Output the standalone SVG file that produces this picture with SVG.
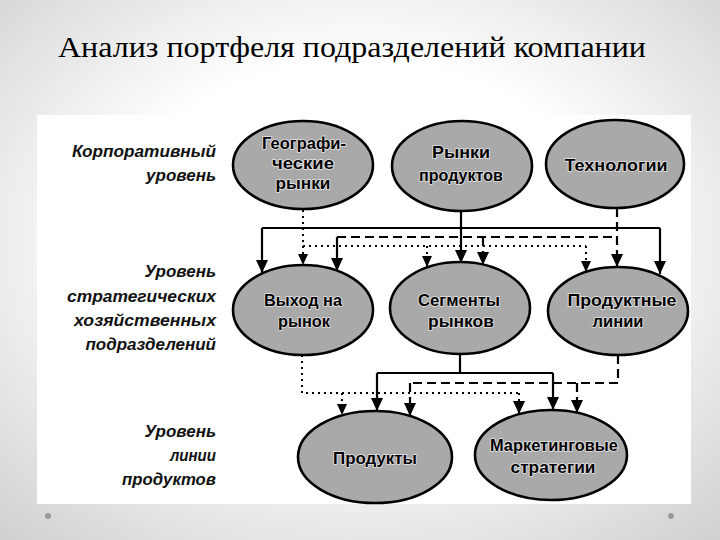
<svg xmlns="http://www.w3.org/2000/svg" width="720" height="540" viewBox="0 0 720 540">
<defs>
<radialGradient id="bg" cx="50%" cy="45%" r="75%">
<stop offset="0.45" stop-color="#ffffff"/>
<stop offset="1" stop-color="#cfcfcf"/>
</radialGradient>
<marker id="ah" markerUnits="userSpaceOnUse" markerWidth="14" markerHeight="12" refX="13" refY="6" orient="auto">
<path d="M0,0 L13,6 L0,12 z" fill="#000"/>
</marker>
<marker id="ahs" markerUnits="userSpaceOnUse" markerWidth="12" markerHeight="10" refX="11" refY="5" orient="auto">
<path d="M0,0 L11,5 L0,10 z" fill="#000"/>
</marker>
</defs>
<style>
.node ellipse{fill:#a9a9a9;stroke:#000;stroke-width:2.6}
.nt{font-family:"Liberation Sans",Arial,sans-serif;font-weight:bold;font-size:16.5px;fill:#000;text-anchor:middle;stroke:#e6e6e6;stroke-width:1.6;paint-order:stroke;stroke-linejoin:round}
.lbl{font-family:"Liberation Sans",Arial,sans-serif;font-weight:bold;font-style:italic;font-size:17px;fill:#111;text-anchor:end}
.solid{fill:none;stroke:#000;stroke-width:2.2}
.dash{fill:none;stroke:#000;stroke-width:2.2;stroke-dasharray:9 5}
.dot{fill:none;stroke:#000;stroke-width:2;stroke-dasharray:2 4}
</style>
<rect width="720" height="540" fill="url(#bg)"/>
<text x="58" y="57" font-family="'Liberation Serif','Times New Roman',serif" font-size="29" fill="#000" textLength="588" lengthAdjust="spacingAndGlyphs">Анализ портфеля подразделений компании</text>
<rect x="37" y="115" width="654" height="389" fill="#fff"/>
<circle cx="48" cy="516" r="3" fill="#9a9a9a"/>
<circle cx="671" cy="516" r="3" fill="#9a9a9a"/>

<g id="levels">
<text class="lbl" x="216" y="157" textLength="144" lengthAdjust="spacingAndGlyphs">Корпоративный</text>
<text class="lbl" x="216" y="181">уровень</text>
<text class="lbl" x="216" y="277">Уровень</text>
<text class="lbl" x="216" y="302" textLength="149" lengthAdjust="spacingAndGlyphs">стратегических</text>
<text class="lbl" x="216" y="326" textLength="142" lengthAdjust="spacingAndGlyphs">хозяйственных</text>
<text class="lbl" x="216" y="350">подразделений</text>
<text class="lbl" x="216" y="437">Уровень</text>
<text class="lbl" x="216" y="461" textLength="46" lengthAdjust="spacingAndGlyphs">линии</text>
<text class="lbl" x="216" y="485" textLength="94" lengthAdjust="spacingAndGlyphs">продуктов</text>
</g>

<g id="connectors">
<path class="solid" d="M461,211 V228 M262,228 H660"/>
<path class="solid" d="M262,228 V273" marker-end="url(#ah)"/>
<path class="solid" d="M461,228 V263" marker-end="url(#ah)"/>
<path class="solid" d="M660,228 V274" marker-end="url(#ah)"/>
<path class="dash" d="M617,208 V267" marker-end="url(#ah)"/>
<path class="dash" d="M337,237 H617"/>
<path class="solid" d="M337,237 V271" marker-end="url(#ah)"/>
<path class="dash" d="M483,237 V265" marker-end="url(#ah)"/>
<path class="dot" d="M303,210 V246 H586"/>
<path class="dot" d="M303,246 V265" marker-end="url(#ahs)"/>
<path class="dot" d="M427,246 V267" marker-end="url(#ahs)"/>
<path class="dot" d="M586,246 V272" marker-end="url(#ahs)"/>
<path class="solid" d="M460,354 V373 M377,373 H553"/>
<path class="solid" d="M377,373 V411" marker-end="url(#ah)"/>
<path class="solid" d="M553,373 V410" marker-end="url(#ah)"/>
<path class="dash" d="M618,355 V383 H410"/>
<path class="dash" d="M410,383 V416" marker-end="url(#ah)"/>
<path class="dash" d="M577,383 V413" marker-end="url(#ah)"/>
<path class="dot" d="M302,355 V393 H519"/>
<path class="dot" d="M342,393 V415" marker-end="url(#ahs)"/>
<path class="dot" d="M519,393 V414" marker-end="url(#ah)"/>
</g>

<g id="n-geo" class="node">
<ellipse cx="303" cy="165" rx="70" ry="44"/>
<text class="nt" x="304" y="149" textLength="84" lengthAdjust="spacingAndGlyphs">Географи-</text>
<text class="nt" x="303" y="169" textLength="62" lengthAdjust="spacingAndGlyphs">ческие</text>
<text class="nt" x="303" y="189" textLength="55" lengthAdjust="spacingAndGlyphs">рынки</text>
</g>
<g id="n-prodmarkets" class="node">
<ellipse cx="462" cy="166" rx="70" ry="45"/>
<text class="nt" x="461" y="158" textLength="58" lengthAdjust="spacingAndGlyphs">Рынки</text>
<text class="nt" x="461" y="181" textLength="84" lengthAdjust="spacingAndGlyphs">продуктов</text>
</g>
<g id="n-tech" class="node">
<ellipse cx="615" cy="164" rx="69" ry="44"/>
<text class="nt" x="616" y="171" textLength="103" lengthAdjust="spacingAndGlyphs">Технологии</text>
</g>
<g id="n-entry" class="node">
<ellipse cx="303" cy="310" rx="70" ry="45"/>
<text class="nt" x="303" y="306" textLength="78" lengthAdjust="spacingAndGlyphs">Выход на</text>
<text class="nt" x="304" y="327" textLength="52" lengthAdjust="spacingAndGlyphs">рынок</text>
</g>
<g id="n-segments" class="node">
<ellipse cx="460" cy="308" rx="70" ry="46"/>
<text class="nt" x="459" y="306" textLength="82" lengthAdjust="spacingAndGlyphs">Сегменты</text>
<text class="nt" x="461" y="327" textLength="66" lengthAdjust="spacingAndGlyphs">рынков</text>
</g>
<g id="n-lines" class="node">
<ellipse cx="618" cy="311" rx="70" ry="44"/>
<text class="nt" x="622" y="306" textLength="109" lengthAdjust="spacingAndGlyphs">Продуктные</text>
<text class="nt" x="618" y="327" textLength="51" lengthAdjust="spacingAndGlyphs">линии</text>
</g>
<g id="n-products" class="node">
<ellipse cx="375" cy="457" rx="77" ry="46"/>
<text class="nt" x="375" y="464" textLength="84" lengthAdjust="spacingAndGlyphs">Продукты</text>
</g>
<g id="n-marketing" class="node">
<ellipse cx="551" cy="455" rx="76" ry="45"/>
<text class="nt" x="554" y="451" textLength="128" lengthAdjust="spacingAndGlyphs">Маркетинговые</text>
<text class="nt" x="553" y="473" textLength="85" lengthAdjust="spacingAndGlyphs">стратегии</text>
</g>
</svg>
